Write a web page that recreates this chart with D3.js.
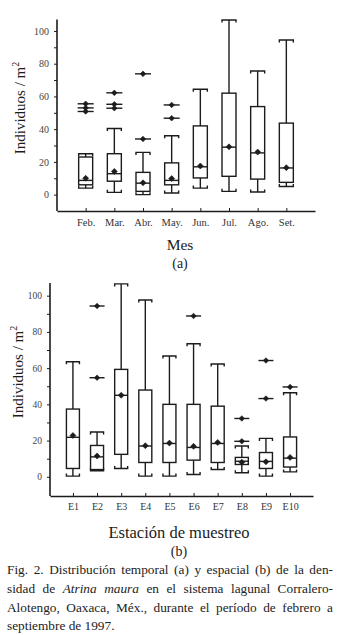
<!DOCTYPE html>
<html><head><meta charset="utf-8">
<script src="https://cdn.jsdelivr.net/npm/d3@7"></script>
<style>body{margin:0;background:#fff}svg{display:block}</style>
</head><body>
<script>
// ---------- Data (a): temporal distribution ----------
const months      = ["Feb.","Mar.","Abr.","May.","Jun.","Jul.","Ago.","Set."];
const monthMin    = [4, 1.4, 0, 1, 4, 2, 1.6, 5];
const monthQ1     = [6, 8.2, 2, 6, 10.2, 11.2, 9.5, 7.5];
const monthMedian = [8.7, 12.8, 7, 8.7, 17, 29, 25.5, 16.3];
const monthMean   = [10, 14.2, 7.2, 9.8, 17.5, 29.2, 26, 16.5];
const monthQ3     = [23, 25, 13.6, 19.4, 42, 62, 53.8, 43.7];
const monthMax    = [25, 40.4, 25.8, 36, 64.4, 106.7, 75.5, 94.5];
const monthOut    = [[50.8, 53, 55.5], [52.8, 55.2, 62.2], [34, 73.8], [46.7, 54.8], [], [], [], []];

// ---------- Data (b): spatial distribution ----------
const stations      = ["E1","E2","E3","E4","E5","E6","E7","E8","E9","E10"];
const stationMin    = [0.4, 3.3, 4.6, 0.4, 0.4, 1.3, 4, 2.2, 0.4, 2.7];
const stationQ1     = [4.6, 4, 12.4, 7.9, 7.9, 9.2, 7.9, 6.8, 4.6, 5.4];
const stationMedian = [21.8, 11, 45, 17, 18.4, 16.2, 18.4, 8.6, 8.5, 10.3];
const stationMean   = [22.8, 11.5, 45, 17.2, 18.6, 16.8, 19, 8.1, 8.3, 10.7];
const stationQ3     = [37.4, 17.3, 59.3, 47.9, 40, 40, 39, 10.7, 13.4, 22];
const stationMax    = [63.5, 24.7, 106.5, 97.6, 66.7, 73.5, 62.3, 17, 21.2, 46.4];
const stationOut    = [[], [54.7, 94.3], [], [], [], [88.8], [], [19.6, 32.2], [43.2, 64.2], [49.6]];

// ---------- Axis tick values ----------
const yTickValues = [0, 10, 20, 30, 40, 50, 60, 70, 80, 90, 100];
const yTickLabels = ["0", "", "20", "", "40", "", "60", "", "80", "", "100"];

const W = 339, H = 635;
const FONT = "'Liberation Serif','Times New Roman',Times,serif";
const INK = "#1c1c1c";

const svg = d3.select("body").append("svg")
  .attr("width", W).attr("height", H)
  .style("font-family", FONT);

function panel(cfg) {
  const g = svg.append("g");
  const x = d3.scalePoint().domain(cfg.cats).range(cfg.xRange).padding(cfg.pad);
  const y = d3.scaleLinear().domain(cfg.yDomain).range(cfg.yRange);
  const bw = cfg.bw;

  // y axis
  const ya = g.append("g").attr("transform", `translate(${cfg.xRange[0]},0)`)
    .call(d3.axisLeft(y).tickValues(yTickValues).tickSize(3).tickSizeOuter(0).tickPadding(5)
      .tickFormat((d, i) => yTickLabels[i]));
  ya.select(".domain").attr("d", `M0,${cfg.yRange[0]}V${cfg.yRange[1]}`)
    .attr("stroke", INK).attr("stroke-width", 1.6);
  ya.selectAll(".tick line").attr("stroke", INK).attr("stroke-width", 1);
  ya.selectAll(".tick text").attr("font-family", FONT).attr("font-size", cfg.yFs).attr("fill", "#444");

  // x axis
  const xa = g.append("g").attr("transform", `translate(0,${cfg.yRange[0]})`)
    .call(d3.axisBottom(x).tickSize(-3).tickSizeOuter(0).tickPadding(cfg.xPad));
  xa.select(".domain").attr("stroke", INK).attr("stroke-width", 1.6);
  xa.selectAll(".tick line").attr("stroke", INK).attr("stroke-width", 1);
  xa.selectAll(".tick text").attr("font-family", FONT).attr("font-size", cfg.xFs).attr("fill", "#333");

  const data = cfg.cats.map((c, i) => ({
    c, min: cfg.min[i], q1: cfg.q1[i], med: cfg.med[i], mean: cfg.mean[i],
    q3: cfg.q3[i], max: cfg.max[i], out: cfg.out[i]
  }));
  const diamond = (cx, cy, r) => `M${cx},${cy - r}L${cx + r},${cy}L${cx},${cy + r}L${cx - r},${cy}Z`;

  const b = g.selectAll(".box").data(data).join("g").attr("class", "box")
    .attr("stroke", INK).attr("fill", "none").attr("stroke-width", 1.4);

  // whiskers
  b.append("line").attr("x1", d => x(d.c)).attr("x2", d => x(d.c))
    .attr("y1", d => y(d.q3)).attr("y2", d => y(d.max));
  b.append("line").attr("x1", d => x(d.c)).attr("x2", d => x(d.c))
    .attr("y1", d => y(d.q1)).attr("y2", d => y(d.min));
  // caps with small end ticks toward the box
  b.append("path").attr("d", d => {
    const cx = x(d.c), yy = y(d.max);
    return `M${cx - bw / 2},${yy + 2.5}V${yy}H${cx + bw / 2}V${yy + 2.5}`;
  });
  b.append("path").attr("d", d => {
    const cx = x(d.c), yy = y(d.min);
    return `M${cx - bw / 2},${yy - 2.5}V${yy}H${cx + bw / 2}V${yy - 2.5}`;
  });
  // box
  b.append("rect").attr("x", d => x(d.c) - bw / 2).attr("width", bw)
    .attr("y", d => y(d.q3)).attr("height", d => y(d.q1) - y(d.q3)).attr("fill", "#fff");
  // median
  b.append("line").attr("x1", d => x(d.c) - bw / 2).attr("x2", d => x(d.c) + bw / 2)
    .attr("y1", d => y(d.med)).attr("y2", d => y(d.med));
  // mean diamond
  b.append("path").attr("d", d => diamond(x(d.c), y(d.mean), 3))
    .attr("fill", INK).attr("stroke-width", 0.6);
  // outliers: dash with diamond
  b.each(function (d) {
    const s = d3.select(this);
    d.out.forEach(v => {
      s.append("line").attr("x1", x(d.c) - bw / 2 - 1).attr("x2", x(d.c) + bw / 2 + 1)
        .attr("y1", y(v)).attr("y2", y(v));
      s.append("path").attr("d", diamond(x(d.c), y(v), 2.8)).attr("fill", INK).attr("stroke-width", 0.6);
    });
  });

  // y title
  const yt = g.append("text")
    .attr("transform", `translate(${cfg.ytPos[0]},${cfg.ytPos[1]}) rotate(-90)`)
    .attr("text-anchor", "middle").attr("font-size", 15).attr("fill", INK);
  yt.append("tspan").text("Individuos / m");
  yt.append("tspan").attr("font-size", 10).attr("dy", -6).text("2");

  // x title & panel letter
  g.append("text").attr("x", cfg.xtPos[0]).attr("y", cfg.xtPos[1]).attr("text-anchor", "middle")
    .attr("font-size", cfg.xtFs).attr("fill", INK).text(cfg.xTitle);
  g.append("text").attr("x", cfg.xtPos[0]).attr("y", cfg.xtPos[1] + 18).attr("text-anchor", "middle")
    .attr("font-size", 14).attr("fill", INK).text(cfg.letter);
}

panel({
  cats: months, min: monthMin, q1: monthQ1, med: monthMedian, mean: monthMean,
  q3: monthQ3, max: monthMax, out: monthOut,
  xRange: [57, 315], pad: 1, yDomain: [-10, 107], yRange: [211, 19.5], bw: 14,
  yFs: 10, xFs: 10.5, xPad: 8, ytPos: [25, 108], xtPos: [180, 250], xtFs: 15.5,
  xTitle: "Mes", letter: "(a)"
});

panel({
  cats: stations, min: stationMin, q1: stationQ1, med: stationMedian, mean: stationMean,
  q3: stationQ3, max: stationMax, out: stationOut,
  xRange: [50, 313], pad: 0.95, yDomain: [-10.6, 107], yRange: [496, 283], bw: 13,
  yFs: 9.5, xFs: 10, xPad: 7, ytPos: [23, 372], xtPos: [179, 538], xtFs: 16.5,
  xTitle: "Estación de muestreo", letter: "(b)"
});

// ---------- Caption ----------
const capX = 7, capW = 326, capFs = 13.3;
const capLines = [
  [["Fig. 2. Distribución temporal (a) y espacial (b) de la den-", false]],
  [["sidad de ", false], ["Atrina maura", true], [" en el sistema lagunal Corralero-", false]],
  [["Alotengo, Oaxaca, Méx., durante el período de febrero a", false]],
  [["septiembre de 1997.", false]]
];
const capY = [574, 593, 611.5, 630];
capLines.forEach((parts, i) => {
  const t = svg.append("text").attr("x", capX).attr("y", capY[i])
    .attr("font-size", capFs).attr("fill", "#222").attr("xml:space", "preserve");
  parts.forEach(([s, it]) => t.append("tspan").attr("font-style", it ? "italic" : "normal").text(s));
  if (i < capLines.length - 1) {
    const wNat = t.node().getComputedTextLength();
    const nSp = parts.map(p => p[0]).join("").split(" ").length - 1;
    t.attr("word-spacing", (capW - wNat) / nSp);
  }
});
</script>
</body></html>
